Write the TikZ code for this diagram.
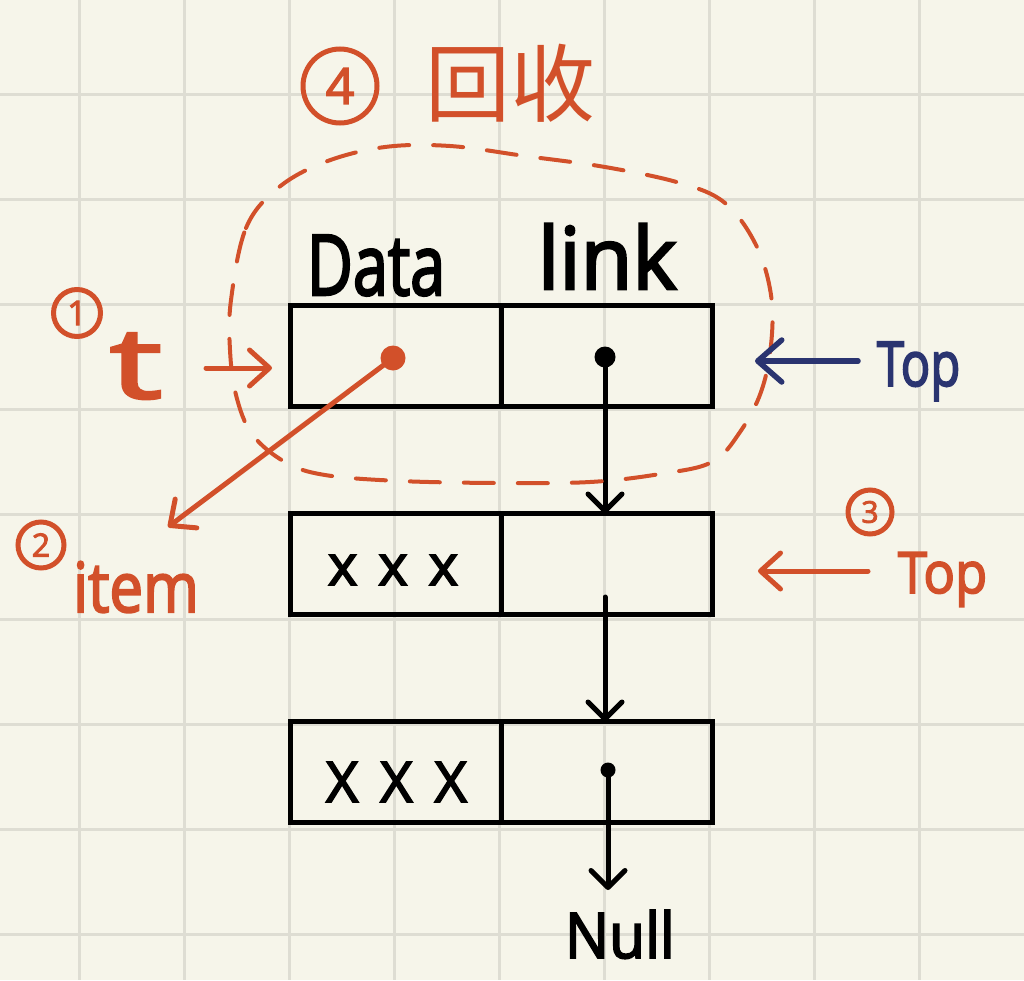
\documentclass[tikz,border=0pt]{standalone}
\usepackage{fontspec}
\setmainfont{Open Sans}[FakeBold=3]
\newfontfamily\cjk{Noto Sans CJK SC}
\usetikzlibrary{arrows.meta}
\definecolor{paper}{HTML}{F6F5EA}
\definecolor{gridc}{HTML}{DEDDD3}
\definecolor{rust}{HTML}{D2502A}
\definecolor{navy}{HTML}{2A3470}
\newcommand{\fsz}[1]{\fontsize{#1pt}{#1pt}\selectfont}
\begin{document}
\begin{tikzpicture}[x=1pt,y=-1pt,
  gridline/.style={draw=gridc,line width=3pt},
  cell/.style={draw=black,line width=5pt,minimum width=211pt,minimum height=101pt,inner sep=0pt,outer sep=0pt},
  blkarrow/.style={draw=black,line width=5pt,line cap=round,-{Straight Barb[length=17pt,width=34pt,round]}},
  rustarrow/.style={draw=rust,line width=5pt,line cap=round,-{Straight Barb[length=20pt,width=36pt,round]}},
  navyarrow/.style={draw=navy,line width=5.5pt,line cap=round,-{Straight Barb[length=24pt,width=42pt,round]}},
  cnum/.style={circle,draw=rust,line width=5pt,text=rust,inner sep=0pt},
  lbl/.style={inner sep=0pt,outer sep=0pt}
]
\useasboundingbox (0,0) rectangle (1024,980);
\fill[paper] (0,0) rectangle (1024,980);
\foreach \x in {79,184,289,394,499,604,709,814,919}
  \draw[gridline] (\x,0) -- (\x,980);
\foreach \y in {94,199,304,409,514,619,724,829,934}
  \draw[gridline] (0,\y) -- (1024,\y);

% cells
\node[cell] (d1) at (396,356) {};
\node[cell] (l1) at (606.5,356) {};
\node[cell] (d2) at (396,564) {};
\node[cell] (l2) at (606.5,564) {};
\node[cell] (d3) at (396,772) {};
\node[cell] (l3) at (606.5,772) {};

% headers
\node[lbl,anchor=base west] (hdata) at (307,295) {\fsz{84}\scalebox{0.75}[1]{Data}};
\node[lbl,anchor=base west] (hlink) at (538,289) {\fsz{86}\scalebox{0.98}[1]{link}};

% contents
\node[lbl,anchor=base west] (x2) at (328,585) {\fsz{56}x\hspace{21pt}x\hspace{21pt}x};
\node[lbl,anchor=base west] (x3) at (326,802) {\fsz{56}X\hspace{22pt}X\hspace{22pt}X};

% dots
\fill[rust] (393,358) circle (12.5);
\coordinate (p1) at (393,358);
\fill[black] (605,357) circle (10.5);
\coordinate (q1) at (605,357);
\fill[black] (608,770) circle (7.5);
\coordinate (q3) at (608,770);

% black connectors
\draw[blkarrow] (q1) -- (q1 |- l2.north);
\coordinate (s2) at (605,597);
\draw[blkarrow] (s2) -- (s2 |- l3.north);
\coordinate (nulltip) at (608,890);
\draw[blkarrow] (q3) -- (nulltip);
\node[lbl,anchor=base west] (null) at (565,958) {\fsz{63}\scalebox{0.93}[1]{Null}};

% dashed recycle region
\draw[rust,line width=4pt,line cap=round,dash pattern=on 30pt off 24pt]
  plot[smooth cycle,tension=0.6] coordinates {
  (231,300) (246,228) (278,188) (325,162) (385,147) (450,146) (525,156)
  (605,167) (680,183) (725,203) (756,245) (771,295) (771,345) (761,392)
  (740,432) (712,462) (660,474) (590,482) (500,483) (400,481) (325,475)
  (285,462) (252,434) (236,395) (230,350)};

% recycle label
\node[cnum,minimum size=74pt,font=\fsz{50}] (c4) at (340,86) {4};
\node[lbl,text=rust] (recycle) at (510,83) {\cjk\fsz{85}回收};

% t pointer
\node[cnum,minimum size=47pt,font=\fsz{34}] (c1) at (77,313) {1};
\node[lbl,anchor=base west,text=rust] (tlab) at (110,398) {\fsz{98}\scalebox{1.5}[1]{t}};
\coordinate (tS) at (206,368);
\coordinate (tE) at (272,368);
\draw[rustarrow] (tS) -- (tE);

% item
\node[cnum,minimum size=46pt,font=\fsz{32}] (c2) at (41,545) {2};
\node[lbl,anchor=base west,text=rust] (item) at (73,612) {\fsz{69}\scalebox{0.87}[1]{item}};
\coordinate (itemtip) at (168,527);
\draw[rustarrow] (p1) -- (itemtip);

% Top (navy)
\node[lbl,anchor=base west,text=navy] (top1) at (877,386) {\fsz{62}\scalebox{0.79}[1]{Top}};
\coordinate (nS) at (858,361);
\coordinate (nE) at (755,361);
\draw[navyarrow] (nS) -- (nE);

% Top (rust)
\node[cnum,minimum size=44pt,font=\fsz{30}] (c3) at (870,512) {3};
\node[lbl,anchor=base west,text=rust] (top2) at (898,593) {\fsz{57}\scalebox{0.92}[1]{Top}};
\coordinate (oS) at (868,571);
\coordinate (oE) at (758,571);
\draw[rustarrow] (oS) -- (oE);
\end{tikzpicture}
\end{document}
